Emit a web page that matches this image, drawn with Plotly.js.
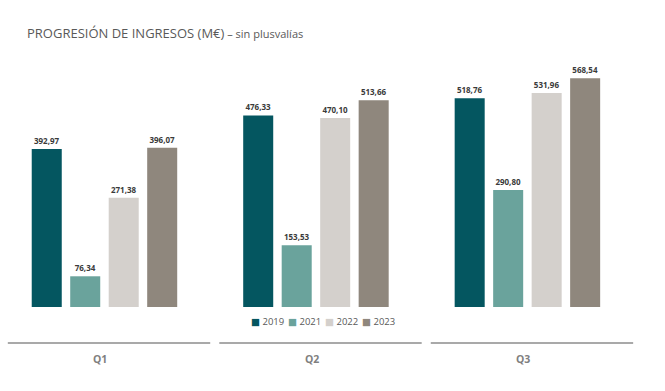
<!DOCTYPE html>
<html>
<head>
<meta charset="utf-8">
<script src="https://cdn.plot.ly/plotly-3.0.1.min.js"></script>
<style>html,body{margin:0;padding:0;background:#fff;}#chart{width:665px;height:391px;}</style>
</head>
<body>
<div id="chart"></div>
<script>
const categories = ["Q1", "Q2", "Q3"];
const years = ["2019", "2021", "2022", "2023"];
const values2019 = [392.97, 476.33, 518.76];
const values2021 = [76.34, 153.53, 290.80];
const values2022 = [271.38, 470.10, 531.96];
const values2023 = [396.07, 513.66, 568.54];
const colors = ["#045660", "#6aa39c", "#d4d0cc", "#8f877d"];

const series = [values2019, values2021, values2022, values2023];
const traces = series.map((vals, i) => ({
  type: "bar",
  name: years[i],
  x: categories,
  y: vals,
  marker: {color: colors[i]},
  texttemplate: "<b>%{y:.2f}</b>",
  textposition: "outside",
  cliponaxis: false,
  textfont: {family: "Open Sans, DejaVu Sans, sans-serif", size: 8, color: "#3a3a3a"},
  hoverinfo: "none"
}));

const shapes = categories.map((c, i) => ({
  type: "line", xref: "x", yref: "paper",
  x0: i - 0.457, x1: i + 0.5, y0: -0.1457, y1: -0.1457,
  line: {color: "#8c8c8c", width: 1.5}
}));

const annotations = categories.map((c, i) => ({
  text: "<b>" + c + "</b>", xref: "x", yref: "paper",
  x: i - 0.02, y: -0.2105, xanchor: "center", yanchor: "middle",
  showarrow: false,
  font: {family: "Open Sans, DejaVu Sans, sans-serif", size: 10.5, color: "#808080"}
}));

// legend entries (compact, drawn as annotations)
const legendX = [249, 286, 323, 360];
years.forEach((y, i) => {
  annotations.push({
    text: '<span style="color:' + colors[i] + '">■</span> ' + y,
    xref: "paper", yref: "paper",
    x: legendX[i] / 634, y: -0.0567, xanchor: "left", yanchor: "middle",
    showarrow: false,
    font: {family: "Open Sans, DejaVu Sans, sans-serif", size: 9.5, color: "#595959"}
  });
});

const layout = {
  width: 665, height: 391,
  margin: {l: 0, r: 31, t: 60, b: 84},
  paper_bgcolor: "#ffffff", plot_bgcolor: "#ffffff",
  separators: ",.",
  barmode: "group",
  bargap: 0.272,
  bargroupgap: 0.22,
  showlegend: false,
  title: {
    text: 'PROGRESIÓN DE INGRESOS (M€)<span style="font-size:11px"> – sin plusvalías</span>',
    xref: "container", yref: "container",
    x: 27 / 665, xanchor: "left", y: 1 - 33 / 391, yanchor: "middle",
    font: {family: "Open Sans, DejaVu Sans, sans-serif", size: 13, color: "#595959"}
  },
  xaxis: {
    type: "category", range: [-0.494, 2.504],
    showticklabels: false, showgrid: false, zeroline: false, showline: false, ticks: ""
  },
  yaxis: {
    range: [0, 614], visible: false, showgrid: false, zeroline: false
  },
  shapes: shapes,
  annotations: annotations
};

Plotly.newPlot("chart", traces, layout, {displayModeBar: false, staticPlot: true});
</script>
</body>
</html>
